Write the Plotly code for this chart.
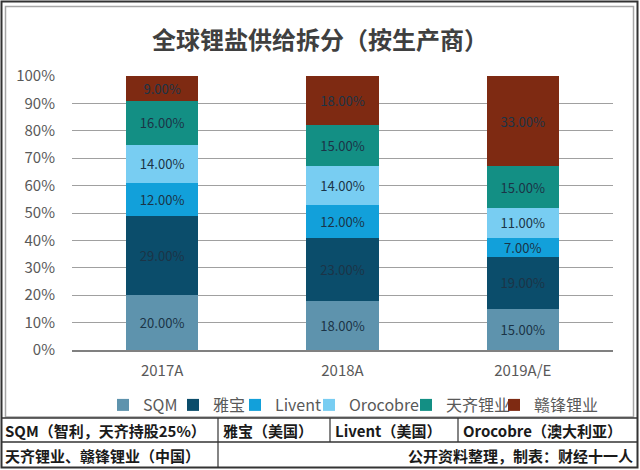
import plotly.graph_objects as go

categories = ["2017A", "2018A", "2019A/E"]
series_names = ["SQM", "雅宝", "Livent", "Orocobre", "天齐锂业", "赣锋锂业"]
sqm = [20, 18, 15]
yabao = [29, 23, 19]
livent = [12, 12, 7]
orocobre = [14, 14, 11]
tianqi = [16, 15, 15]
ganfeng = [9, 18, 33]
series_values = [sqm, yabao, livent, orocobre, tianqi, ganfeng]
colors = ["#5E93AD", "#0B4D6B", "#12A0DA", "#78CDF2", "#138F84", "#7E2A12"]
ytick_vals = [0, 0.1, 0.2, 0.3, 0.4, 0.5, 0.6, 0.7, 0.8, 0.9, 1.0]
ytick_text = ["0%", "10%", "20%", "30%", "40%", "50%", "60%", "70%", "80%", "90%", "100%"]

W, H = 640, 470
L, R, T, B = 72, 613, 76, 350
FONT = "Noto Sans CJK SC"


def px(x):
    return (x - L) / (R - L)


def py(y):
    return (B - y) / (B - T)


legend_ids = ["legend", "legend2", "legend3", "legend4", "legend5", "legend6"]
legend_text_x = [143, 213, 275, 349, 446, 534]

fig = go.Figure()
for name, vals, c, lid in zip(series_names, series_values, colors, legend_ids):
    fig.add_trace(go.Bar(
        x=categories, y=[v / 100 for v in vals], name=name, legend=lid,
        marker=dict(color=c, line=dict(width=0)),
        text=[f"{v:.2f}%" for v in vals],
        textposition="inside", insidetextanchor="middle", textangle=0,
        textfont=dict(size=14, color="#1B3447", family=FONT),
        hoverinfo="skip",
    ))

shapes = []
shapes.append(dict(type="rect", xref="paper", yref="paper",
                   x0=px(1.5), x1=px(637.5), y0=py(1.5), y1=py(467.5),
                   line=dict(color="#333333", width=2)))
shapes.append(dict(type="rect", xref="paper", yref="paper",
                   x0=px(5.5), x1=px(633.5), y0=py(6.5), y1=py(417),
                   line=dict(color="#A6A6A6", width=1.5)))
for yy in [418, 442]:
    shapes.append(dict(type="line", xref="paper", yref="paper",
                       x0=px(1.5), x1=px(637.5), y0=py(yy), y1=py(yy),
                       line=dict(color="#333333", width=1.5)))
for xx in [218, 330, 458]:
    shapes.append(dict(type="line", xref="paper", yref="paper",
                       x0=px(xx), x1=px(xx), y0=py(418), y1=py(442),
                       line=dict(color="#333333", width=1.2)))
shapes.append(dict(type="line", xref="paper", yref="paper",
                   x0=px(218), x1=px(218), y0=py(442), y1=py(467.5),
                   line=dict(color="#333333", width=1.2)))

table_cells = [
    ("SQM（智利，天齐持股25%）", 3, 430, "left"),
    ("雅宝（美国）", 221, 430, "left"),
    ("Livent（美国）", 333, 430, "left"),
    ("Orocobre（澳大利亚）", 461, 430, "left"),
    ("天齐锂业、赣锋锂业（中国）", 3, 455, "left"),
    ("公开资料整理，制表：财经十一人", 635, 455, "right"),
]
annotations = []
for txt, x, y, al in table_cells:
    annotations.append(dict(text=f"<b>{txt}</b>", xref="paper", yref="paper",
                            x=px(x), y=py(y), xanchor=al, yanchor="middle",
                            showarrow=False,
                            font=dict(size=15, color="#1A1A1A", family=FONT)))
annotations.append(dict(text="<b>全球锂盐供给拆分（按生产商）</b>", xref="paper", yref="paper",
                        x=px(320), y=py(38), xanchor="center", yanchor="middle",
                        showarrow=False,
                        font=dict(size=24, color="#3F3F3F", family=FONT)))

legend_layout = {}
for lid, tx in zip(legend_ids, legend_text_x):
    legend_layout[lid] = dict(
        orientation="h", x=px(tx - 40), xanchor="left", y=py(405), yanchor="middle",
        font=dict(size=16, color="#595959", family=FONT),
        itemwidth=30, bgcolor="rgba(0,0,0,0)",
    )

fig.update_layout(
    width=W, height=H,
    margin=dict(l=L, r=W - R, t=T, b=H - B, pad=0),
    barmode="stack", bargap=0.6,
    paper_bgcolor="white", plot_bgcolor="white",
    font=dict(family=FONT, color="#595959"),
    uniformtext=dict(minsize=12, mode="show"),
    showlegend=True,
    xaxis=dict(showgrid=False, showline=True, linecolor="#808080", linewidth=1.5,
               ticks="outside", ticklen=6, tickcolor="rgba(0,0,0,0)",
               tickfont=dict(size=15, color="#595959"), fixedrange=True),
    yaxis=dict(range=[0, 1], tickvals=ytick_vals, ticktext=ytick_text,
               showgrid=True, gridcolor="#A0A0A0", gridwidth=1.3,
               zeroline=False, showline=False,
               ticks="outside", ticklen=13, tickcolor="rgba(0,0,0,0)",
               tickfont=dict(size=15, color="#595959"), fixedrange=True),
    shapes=shapes, annotations=annotations,
    **legend_layout,
)

fig.write_html("out.html", config={"displayModeBar": False},
               post_script="document.body.style.margin='0';document.body.style.padding='0';")
